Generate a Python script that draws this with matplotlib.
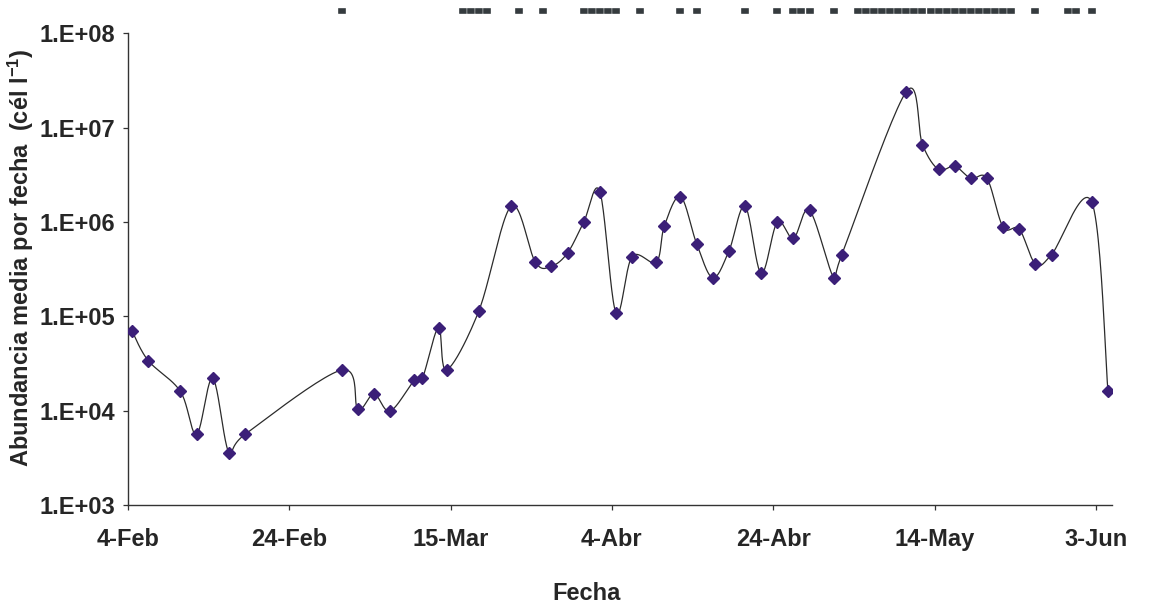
import matplotlib
matplotlib.use('Agg')
import matplotlib.pyplot as plt
import matplotlib.dates as mdates
from matplotlib.ticker import FuncFormatter, FixedLocator, NullLocator
import numpy as np

# fechas como dias desde el 4-Feb (año bisiesto)
inicio = np.datetime64('2004-02-04')
dias = [0, 2, 6, 8, 10, 12, 14, 26, 28, 30, 32, 35, 36, 38, 39, 43, 47, 50, 52, 54,
        56, 58, 60, 62, 65, 66, 68, 70, 72, 74, 76, 78, 80, 82, 84, 87, 88, 96, 98,
        100, 102, 104, 106, 108, 110, 112, 114, 119, 121]
abundancia = [7.0e4, 3.4e4, 1.6e4, 5.6e3, 2.2e4, 3.6e3, 5.6e3, 2.7e4, 1.04e4, 1.5e4,
              9.9e3, 2.1e4, 2.2e4, 7.6e4, 2.7e4, 1.14e5, 1.47e6, 3.75e5, 3.4e5, 4.7e5,
              9.96e5, 2.1e6, 1.09e5, 4.3e5, 3.75e5, 9.1e5, 1.86e6, 5.9e5, 2.56e5, 4.9e5,
              1.47e6, 2.85e5, 9.96e5, 6.7e5, 1.33e6, 2.56e5, 4.5e5, 2.41e7, 6.6e6, 3.6e6,
              3.9e6, 2.9e6, 2.9e6, 8.8e5, 8.4e5, 3.6e5, 4.5e5, 1.62e6, 1.6e4]
# dias marcados en la franja superior
dias_marca = [26, 41, 42, 43, 44, 48, 51, 56, 57, 58, 59, 60, 63, 68, 70, 76, 80,
              82, 83, 84, 87] + list(range(90, 110)) + [112, 116, 117, 119]
meses = {2: 'Feb', 3: 'Mar', 4: 'Abr', 5: 'May', 6: 'Jun'}

plt.rcParams['font.family'] = ['Liberation Sans', 'DejaVu Sans']
plt.rcParams['font.weight'] = 'bold'
plt.rcParams['mathtext.fontset'] = 'custom'
plt.rcParams['mathtext.rm'] = 'Liberation Sans:bold'
plt.rcParams['mathtext.default'] = 'rm'
txt = '#262626'


def curva_suave(x, y, n=24):
    # bezier tipo catmull-rom, como la linea suavizada de Excel
    x = np.asarray(x, float)
    y = np.asarray(y, float)
    px = np.r_[x[0], x, x[-1]]
    py = np.r_[y[0], y, y[-1]]
    t = np.linspace(0, 1, n)
    xs, ys = [], []
    for i in range(1, len(px) - 2):
        c1x = px[i] + (px[i+1] - px[i-1]) / 6
        c1y = py[i] + (py[i+1] - py[i-1]) / 6
        c2x = px[i+1] - (px[i+2] - px[i]) / 6
        c2y = py[i+1] - (py[i+2] - py[i]) / 6
        b0, b1, b2, b3 = (1-t)**3, 3*(1-t)**2*t, 3*(1-t)*t**2, t**3
        xs.append(b0*px[i] + b1*c1x + b2*c2x + b3*px[i+1])
        ys.append(b0*py[i] + b1*c1y + b2*c2y + b3*py[i+1])
    return np.concatenate(xs), np.concatenate(ys)


x0 = mdates.date2num(inicio)
x = x0 + np.array(dias) + 0.5
xl, yl = curva_suave(x, np.log10(abundancia))

fig = plt.figure(figsize=(11.49, 6.03), dpi=100)
ax = fig.add_axes([0.1114, 0.1625, 0.8564, 0.7823])
ax.set_yscale('log')
ax.plot(xl, 10**yl, color='#2b2b2b', lw=0.9, zorder=2)
ax.plot(x, abundancia, ls='none', marker='D', ms=6.2, color='#3b1f78',
        mec='#3b1f78', zorder=3)

# franja de marcas arriba del grafico
rect = [(-0.5, -0.42), (0.5, -0.42), (0.5, 0.42), (-0.5, 0.42), (-0.5, -0.42)]
ax.plot(x0 + np.array(dias_marca) + 0.5, [1.0483] * len(dias_marca), ls='none',
        marker=rect, ms=5.8, color='#353b3e', mec='white', mew=0.25,
        transform=ax.get_xaxis_transform(), clip_on=False)

ax.set_xlim(x0, x0 + 122)
ax.set_ylim(1e3, 1e8)
ax.xaxis.set_major_locator(FixedLocator(x0 + np.arange(0, 121, 20)))
ax.xaxis.set_major_formatter(FuncFormatter(
    lambda v, p: '%d-%s' % (mdates.num2date(v).day, meses[mdates.num2date(v).month])))
ax.yaxis.set_major_locator(FixedLocator([1e3, 1e4, 1e5, 1e6, 1e7, 1e8]))
ax.yaxis.set_minor_locator(NullLocator())
ax.yaxis.set_major_formatter(FuncFormatter(lambda v, p: '1.E+%02d' % round(np.log10(v))))

for s in ['top', 'right']:
    ax.spines[s].set_visible(False)
for s in ['left', 'bottom']:
    ax.spines[s].set_color('#333333')
    ax.spines[s].set_linewidth(1.0)
ax.tick_params(axis='both', direction='out', length=3.6, width=0.9, color='#333333',
               labelsize=17, labelcolor=txt)
ax.tick_params(axis='x', pad=13)
ax.tick_params(axis='y', pad=5.5)

ax.set_xlabel('Fecha', fontsize=17, fontweight='bold', color=txt)
ax.set_ylabel('Abundancia media por fecha  (cél l$^{-1}$)', fontsize=17,
              fontweight='bold', color=txt)
ax.xaxis.set_label_coords(0.466, -0.163)
ax.yaxis.set_label_coords(-0.093, 0.524)

fig.savefig('out.png', dpi=100)
